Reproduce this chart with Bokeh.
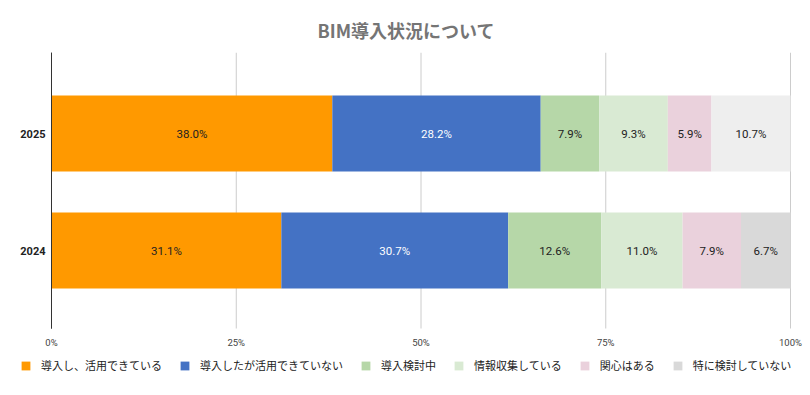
from bokeh.plotting import figure
from bokeh.models import Range1d, ColumnDataSource, Legend, LegendItem, Title
from bokeh.embed import file_html
from bokeh.resources import INLINE
from bokeh.core.properties import value

# ---- data ----
chart_title = "BIM導入状況について"
years = ["2025", "2024"]
year_pos = [1, 0]
series_names = ["導入し、活用できている", "導入したが活用できていない", "導入検討中",
                "情報収集している", "関心はある", "特に検討していない"]
s_active = [38.0, 31.1]
s_inactive = [28.2, 30.7]
s_considering = [7.9, 12.6]
s_info = [9.3, 11.0]
s_interest = [5.9, 7.9]
s_none = [10.7, 6.7]
x_ticks = [0, 25, 50, 75, 100]
x_tick_labels = ["0%", "25%", "50%", "75%", "100%"]

series_values = [s_active, s_inactive, s_considering, s_info, s_interest, s_none]
series_colors = [
    ["#ff9900", "#ff9900"],
    ["#4472c4", "#4472c4"],
    ["#b6d7a8", "#b6d7a8"],
    ["#d9ead3", "#d9ead3"],
    ["#ead1dc", "#ead1dc"],
    ["#eeeeee", "#d9d9d9"],
]
label_colors = ["#222222", "#ffffff", "#222222", "#222222", "#222222", "#222222"]

# ---- layout constants (pixels -> data mapping) ----
W, H, TOP = 808, 379, 52
PX_X0, PX_X100 = 51, 790
kx = (PX_X100 - PX_X0) / 100.0
PX_Y1, PX_Y0 = 133, 250
ky = float(PX_Y0 - PX_Y1)
def yd(px):
    return (PX_Y0 - px) / ky
def xd(px):
    return (px - PX_X0) / kx

p = figure(width=W, height=H, output_backend="svg", toolbar_location=None,
           x_range=Range1d(xd(0), xd(W)), y_range=Range1d(yd(H), yd(TOP)),
           min_border_left=0, min_border_right=0, min_border_top=TOP, min_border_bottom=0)
p.outline_line_color = None
p.background_fill_color = "#ffffff"
p.axis.visible = False
p.grid.visible = False

grid_bottom = yd(328)
grid_top = yd(TOP)
grid_src = ColumnDataSource(dict(x=x_ticks, y0=[grid_bottom] * len(x_ticks), y1=[grid_top] * len(x_ticks),
                                 color=["#333333" if t == 0 else "#cccccc" for t in x_ticks]))
p.segment(x0="x", x1="x", y0="y0", y1="y1", line_color="color", line_width=1, source=grid_src)

renderers = []
left = [0.0, 0.0]
for vals, cols, lc in zip(series_values, series_colors, label_colors):
    right = [l + v for l, v in zip(left, vals)]
    mid = [(l + r) / 2 for l, r in zip(left, right)]
    src = ColumnDataSource(dict(y=year_pos, left=left, right=right, color=cols, mid=mid,
                                txt=[f"{v:.1f}%" for v in vals]))
    r = p.hbar(y="y", left="left", right="right", height=0.65, fill_color="color",
               line_color=None, source=src)
    renderers.append(r)
    p.text(x="mid", y="y", text="txt", source=src, text_align="center", text_baseline="middle",
           text_font=value("Roboto"), text_font_size="11.5px", text_color=lc)
    left = right

# 0-line on top of bars' left edge
p.segment(x0=[0], x1=[0], y0=[grid_bottom], y1=[grid_top], line_color="#333333", line_width=1)

# x tick labels
tick_src = ColumnDataSource(dict(x=x_ticks, y=[yd(342)] * len(x_ticks), t=x_tick_labels))
p.text(x="x", y="y", text="t", source=tick_src, text_align="center", text_baseline="middle",
       text_font=value("Roboto"), text_font_size="9.5px", text_color="#444444")

# year labels
year_src = ColumnDataSource(dict(x=[xd(45)] * len(years), y=year_pos, t=years))
p.text(x="x", y="y", text="t", source=year_src, text_align="right", text_baseline="middle",
       text_font=value("Roboto"), text_font_style="bold", text_font_size="11px", text_color="#222222")

items = []
for name, r in zip(series_names, renderers):
    items.append(LegendItem(label=name, renderers=[r], index=1))
legend = Legend(items=items, orientation="horizontal", location=(20, 6),
                glyph_width=11, glyph_height=11, label_standoff=10, spacing=17,
                padding=0, margin=0, border_line_color=None, background_fill_alpha=0,
                label_text_font="Noto Sans CJK JP", label_text_font_size="11px",
                label_text_color="#222222", label_height=11)
p.add_layout(legend, "center")

t = Title(text=chart_title, align="left", offset=317, standoff=20, text_font="Noto Sans CJK JP",
          text_font_size="18px", text_font_style="bold", text_color="#757575")
p.add_layout(t, "above")

open("out.html", "w").write(file_html(p, INLINE))
